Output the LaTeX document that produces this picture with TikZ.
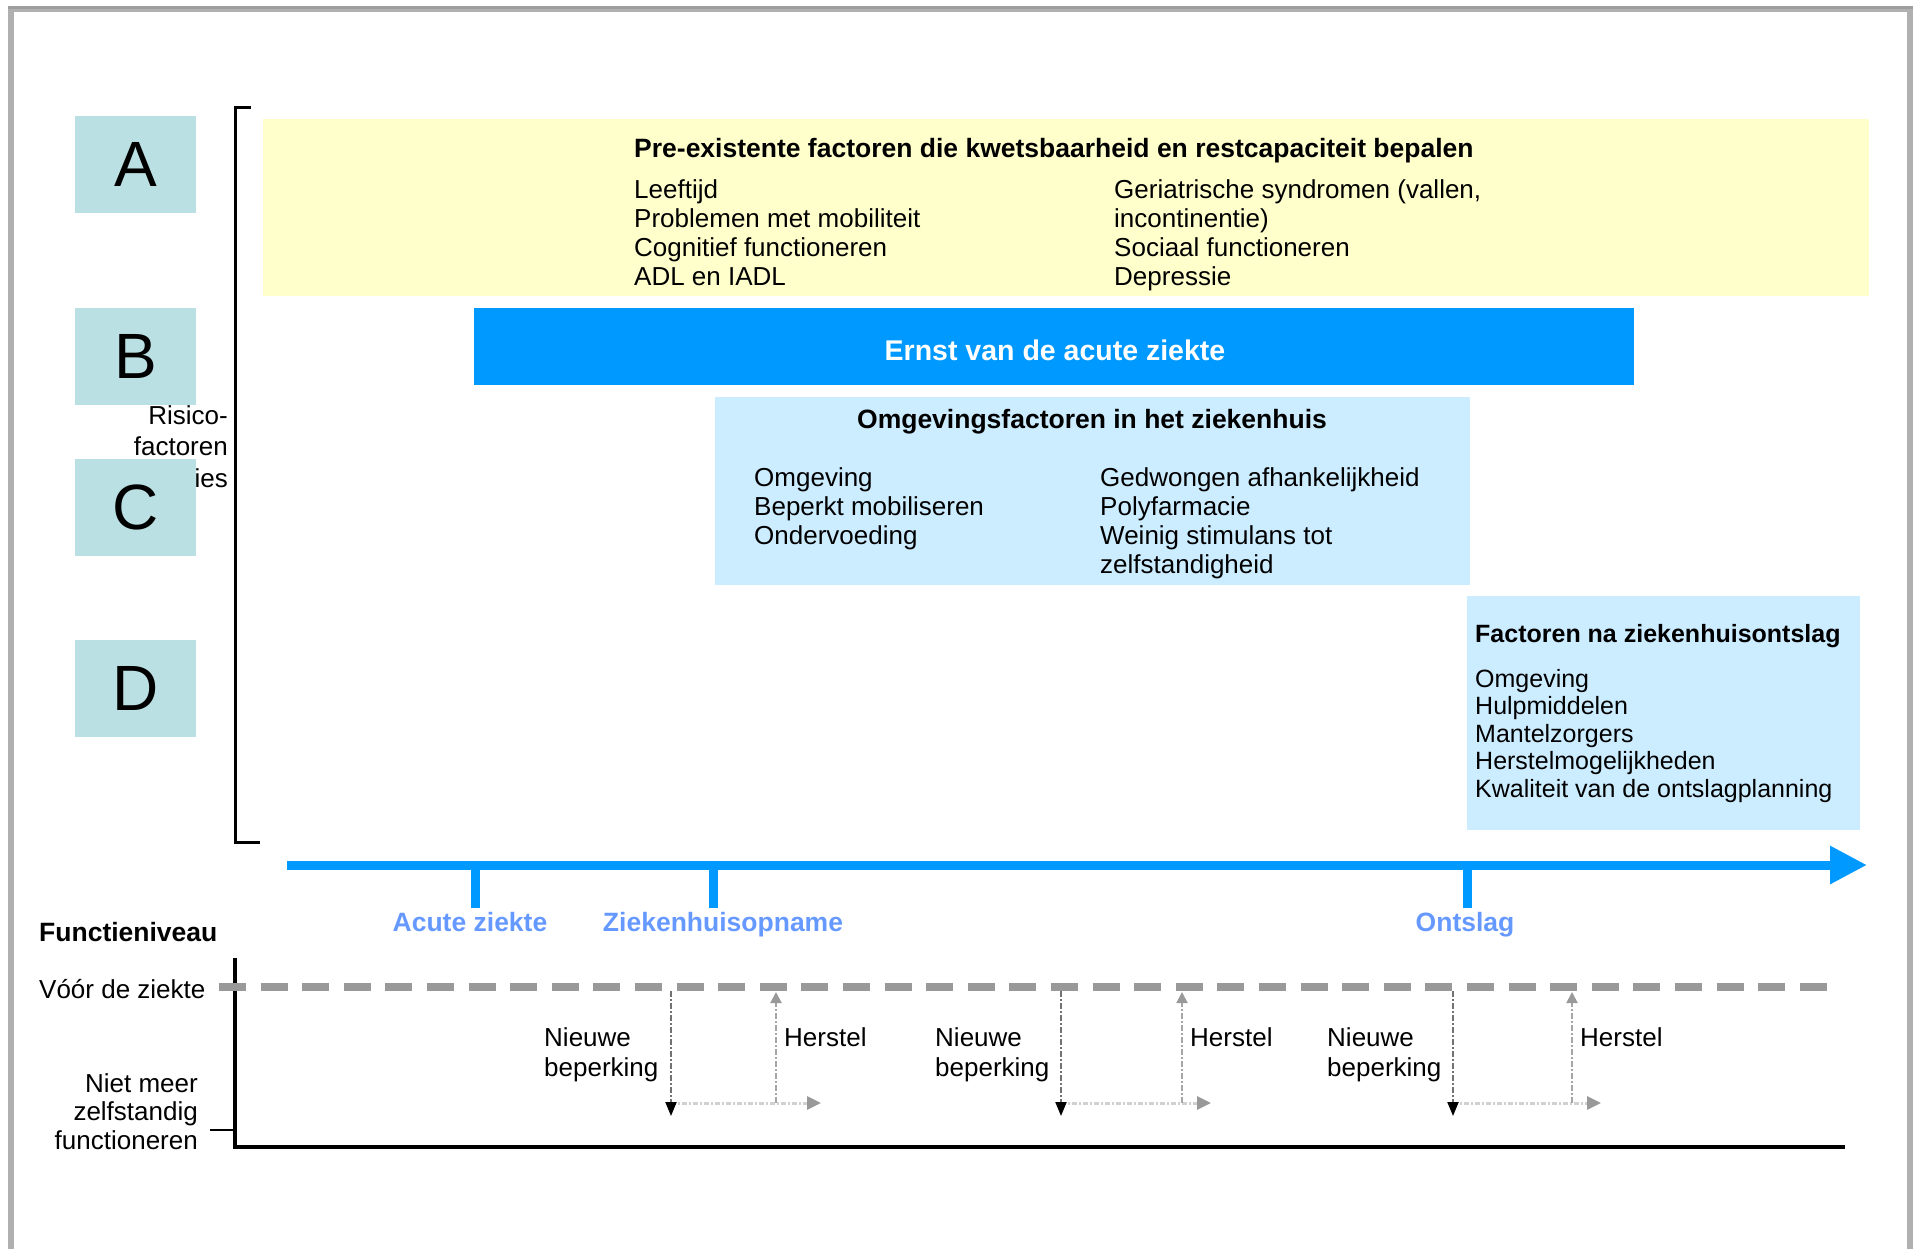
\documentclass[tikz,border=0pt]{standalone}
\usepackage{fontspec}
\setmainfont{Liberation Sans}
\usetikzlibrary{arrows.meta}
\definecolor{boxteal}{RGB}{187,224,227}
\definecolor{yel}{RGB}{255,255,204}
\definecolor{bblue}{RGB}{0,153,255}
\definecolor{lblue}{RGB}{204,236,255}
\definecolor{labblue}{RGB}{102,153,255}
\definecolor{dashgray}{RGB}{153,153,153}
\definecolor{framegray}{RGB}{176,176,176}
\definecolor{tipgray}{RGB}{153,153,153}
\begin{document}
\begin{tikzpicture}[x=1pt,y=-1pt,
  txt/.style={font=\fontsize{26}{29}\selectfont, inner sep=0pt, align=left, anchor=base west},
  btxt/.style={txt, font=\fontsize{26.5}{29}\selectfont\bfseries},
  lbox/.style={fill=boxteal, minimum width=121pt, minimum height=97pt, inner sep=0pt, font=\fontsize{64}{64}\selectfont},
  panel/.style={inner sep=0pt, anchor=north west},
  tlab/.style={font=\fontsize{26.5}{29}\selectfont\bfseries, text=labblue, inner sep=0pt, anchor=base},
  tickline/.style={line width=9pt, draw=bblue},
  downline/.style={line width=2pt, draw=black!55, dash pattern=on 6pt off 2pt on 2pt off 2pt, -{Triangle[length=14pt,width=11pt,color=black]}},
  hline/.style={line width=3pt, draw=black!18, dash pattern=on 5pt off 2pt on 2pt off 2pt, -{Triangle[length=14pt,width=13pt,color=tipgray]}},
  upline/.style={line width=2pt, draw=black!35, dash pattern=on 6pt off 2pt on 2pt off 2pt, -{Triangle[length=11pt,width=11pt,color=tipgray]}}
]
\useasboundingbox (0,0) rectangle (1919,1248);
% frame
\draw[line width=6pt, framegray] (11,1260) -- (11,9) -- (1910,9) -- (1910,1260);
\draw[line width=3pt, black!38] (8,7.5) -- (1913,7.5);

% bracket
\coordinate (brA) at (251,107.5);
\coordinate (brB) at (235,107.5);
\coordinate (brC) at (235,842);
\coordinate (brD) at (260,842);
\draw[line width=3pt] (brA) -- (brB) -- (brC) -- (brD);

% risk label (partly hidden by box C); base anchor = last line
\node[txt, anchor=base east, align=right, font=\fontsize{26}{31.5}\selectfont] (risk) at (228,487) {Risico-\\factoren\\functieverlies};

% letter boxes
\node[lbox] (A) at (135.5,164.5) {A};
\node[lbox] (B) at (135.5,356.5) {B};
\node[lbox] (C) at (135.5,507.5) {C};
\node[lbox] (D) at (135.5,688.5) {D};

% A panel
\node[panel, fill=yel, minimum width=1606pt, minimum height=177pt] (ybox) at (263,119) {};
\node[btxt] (ytitle) at (634,157) {Pre-existente factoren die kwetsbaarheid en restcapaciteit bepalen};
\node[txt] (ycol1) at (634,285) {Leeftijd\\Problemen met mobiliteit\\Cognitief functioneren\\ADL en IADL};
\node[txt] (ycol2) at (1114,285) {Geriatrische syndromen (vallen,\\incontinentie)\\Sociaal functioneren\\Depressie};

% B panel
\node[panel, fill=bblue, minimum width=1160pt, minimum height=77pt] (bbox) at (474,308) {};
\node[btxt, font=\fontsize{28.5}{30}\selectfont\bfseries, text=white, anchor=base] (btitle) at (1055,360) {Ernst van de acute ziekte};

% C panel
\node[panel, fill=lblue, minimum width=755pt, minimum height=188pt] (cbox) at (715,397) {};
\node[btxt, anchor=base] (ctitle) at (1092,428) {Omgevingsfactoren in het ziekenhuis};
\node[txt] (ccol1) at (754,544) {Omgeving\\Beperkt mobiliseren\\Ondervoeding};
\node[txt] (ccol2) at (1100,573) {Gedwongen afhankelijkheid\\Polyfarmacie\\Weinig stimulans tot\\zelfstandigheid};

% D panel
\node[panel, fill=lblue, minimum width=393pt, minimum height=234pt] (dbox) at (1467,596) {};
\node[btxt, font=\fontsize{25}{27.5}\selectfont\bfseries] (dtitle) at (1475,642) {Factoren na ziekenhuisontslag};
\node[txt, font=\fontsize{25}{27.5}\selectfont] (dlist) at (1475,797) {Omgeving\\Hulpmiddelen\\Mantelzorgers\\Herstelmogelijkheden\\Kwaliteit van de ontslagplanning};

% timeline
\coordinate (t0) at (287,865);
\coordinate (t1) at (1867,865);
\draw[line width=9pt, bblue, -{Triangle[length=37pt,width=36pt]}] (t0) -- (t1);
\coordinate (k1a) at (475,865); \coordinate (k1b) at (475,908);
\coordinate (k2a) at (713,865); \coordinate (k2b) at (713,908);
\coordinate (k3a) at (1467,865); \coordinate (k3b) at (1467,908);
\draw[tickline] (k1a) -- (k1b);
\draw[tickline] (k2a) -- (k2b);
\draw[tickline] (k3a) -- (k3b);
\node[tlab] (l1) at (470,931) {Acute ziekte};
\node[tlab] (l2) at (723,931) {Ziekenhuisopname};
\node[tlab] (l3) at (1465,931) {Ontslag};

% function level graph
\node[btxt] (fn) at (39,941) {Functieniveau};
\node[txt] (voor) at (39,998) {Vóór de ziekte};
\node[txt, anchor=base east, align=right, font=\fontsize{26}{28.5}\selectfont] (niet) at (198,1149) {Niet meer\\zelfstandig\\functioneren};
\coordinate (axTop) at (235,958);
\coordinate (axCorner) at (235,1147);
\coordinate (axEnd) at (1845,1147);
\draw[line width=3.3pt] (axTop) -- (axCorner) -- (axEnd);
\coordinate (nt0) at (210,1130); \coordinate (nt1) at (235,1130);
\draw[line width=2pt] (nt0) -- (nt1);
\coordinate (v0) at (219,987); \coordinate (v1) at (1830,987);
\draw[line width=8pt, dashgray, dash pattern=on 27pt off 14.6pt] (v0) -- (v1);

% recovery arrows
\foreach \i/\xa/\xb/\xt in {1/671/776/821, 2/1061/1182/1211, 3/1453/1572/1601}{
  \coordinate (dn\i a) at (\xa,991);
  \coordinate (dn\i b) at (\xa,1116);
  \coordinate (hz\i a) at (\xa,1103);
  \coordinate (hz\i b) at (\xt,1103);
  \coordinate (up\i a) at (\xb,1103);
  \coordinate (up\i b) at (\xb,992);
  \draw[hline] (hz\i a) -- (hz\i b);
  \draw[upline] (up\i a) -- (up\i b);
  \draw[downline] (dn\i a) -- (dn\i b);
}
\node[txt, font=\fontsize{26}{30}\selectfont] (nb1) at (544,1076) {Nieuwe\\beperking};
\node[txt, font=\fontsize{26}{30}\selectfont] (nb2) at (935,1076) {Nieuwe\\beperking};
\node[txt, font=\fontsize{26}{30}\selectfont] (nb3) at (1327,1076) {Nieuwe\\beperking};
\node[txt] (hs1) at (784,1046) {Herstel};
\node[txt] (hs2) at (1190,1046) {Herstel};
\node[txt] (hs3) at (1580,1046) {Herstel};
\end{tikzpicture}
\end{document}
